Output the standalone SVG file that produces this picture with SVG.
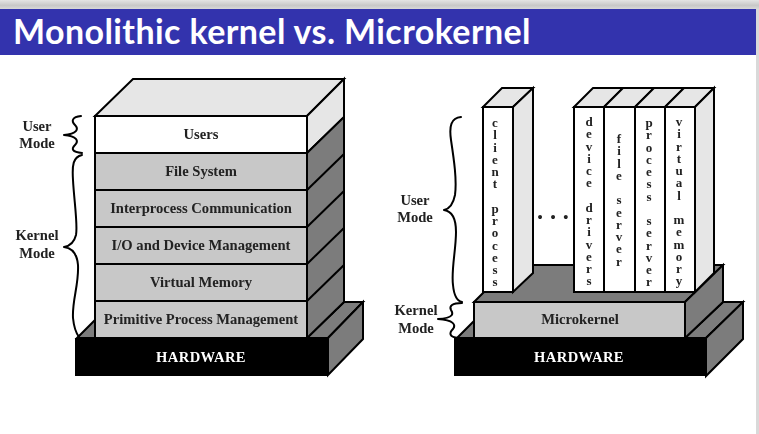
<svg xmlns="http://www.w3.org/2000/svg" width="759" height="434" viewBox="0 0 759 434">
<defs>
<linearGradient id="topShade" x1="0" y1="0" x2="0" y2="1"><stop offset="0" stop-color="#e4e4e4"/><stop offset="0.6" stop-color="#c8c8c8"/><stop offset="1" stop-color="#d8d8d8"/></linearGradient>
<filter id="soft" x="-2%" y="-2%" width="104%" height="104%"><feGaussianBlur stdDeviation="0.45"/></filter>
</defs>
<style>
.s{stroke:#000;stroke-width:2;stroke-linejoin:miter}
.w{fill:#fff}.l{fill:#e6e6e6}.m{fill:#c8c8c8}.d{fill:#7b7b7b}.k{fill:#000}
.b{fill:none;stroke:#000;stroke-width:2;stroke-linecap:round;stroke-linejoin:round}
text{font-family:"Liberation Serif","Times New Roman",serif;font-weight:700;font-size:14.6px;fill:#222;text-anchor:middle}
.hw{fill:#fff;letter-spacing:.4px}
.v{writing-mode:vertical-rl;text-orientation:upright;letter-spacing:-2.75px;font-size:13px;text-anchor:start}
.title{font-family:Lato,"Open Sans",sans-serif;font-size:34px;letter-spacing:.4px;fill:#fff;text-anchor:start}
.dots{letter-spacing:2.1px}
</style>
<rect width="759" height="434" fill="#fff"/>
<rect width="759" height="9" fill="url(#topShade)"/>
<rect x="756" y="9" width="3" height="425" fill="#d9d9d9"/>
<g id="title-bar">
<rect x="0" y="9" width="756" height="46" fill="#3333ad"/>
<text class="title" x="13" y="44">Monolithic kernel vs. Microkernel</text>
</g>
<g filter="url(#soft)">
<g id="mono-hardware">
<polygon class="s d" points="77,338 95,320 95,338"/>
<polygon class="s d" points="307,338 344,302 363,302 328,338"/>
<polygon class="s d" points="328,338 363,302 363,339 328,375"/>
<rect class="k" x="75" y="338" width="253" height="38"/>
<text class="hw" x="201" y="362">HARDWARE</text>
</g>
<g id="mono-top">
<polygon class="s l" points="95,116 133,79 344,79 307,116"/>
<polygon class="s l" points="307,116 344,79 344,117 307,153"/>
<polygon class="s d" points="307,153 344,117 344,302 307,338"/>
</g>
<g id="mono-side-lines">
<path class="s" fill="none" d="M307,190 L344,154 M307,227 L344,191 M307,264 L344,228 M307,301 L344,265"/>
</g>
<g id="layer-users"><rect class="s w" x="95" y="116" width="212" height="37"/><text x="201" y="139">Users</text></g>
<g id="layer-file-system"><rect class="s m" x="95" y="153" width="212" height="37"/><text x="201" y="176">File System</text></g>
<g id="layer-ipc"><rect class="s m" x="95" y="190" width="212" height="37"/><text x="201" y="213">Interprocess Communication</text></g>
<g id="layer-io"><rect class="s m" x="95" y="227" width="212" height="37"/><text x="201" y="250">I/O and Device Management</text></g>
<g id="layer-vm"><rect class="s m" x="95" y="264" width="212" height="37"/><text x="201" y="287">Virtual Memory</text></g>
<g id="layer-ppm"><rect class="s m" x="95" y="301" width="212" height="37"/><text x="201" y="324">Primitive Process Management</text></g>
<g id="mono-user-label"><text x="37" y="131">User</text><text x="37" y="148">Mode</text></g>
<g id="mono-kernel-label"><text x="37" y="240">Kernel</text><text x="37" y="258">Mode</text></g>

<g id="micro-hardware">
<polygon class="s d" points="457,338 474,321 474,338"/>
<polygon class="s d" points="685,338 723,302 743,302 706,338"/>
<polygon class="s d" points="706,338 743,302 743,339 706,376"/>
<rect class="k" x="454" y="338" width="252" height="38"/>
<text class="hw" x="579" y="362">HARDWARE</text>
</g>
<g id="microkernel">
<polygon class="s d" points="474,302 511,265 723,265 685,302"/>
<polygon class="s d" points="685,302 723,265 723,302 685,338"/>
<rect class="s m" x="474" y="302" width="211" height="36"/>
<text x="580" y="324">Microkernel</text>
</g>
<g id="client-process">
<polygon class="s l" points="483,107 502,88 533,88 513,107"/>
<polygon class="s l" points="513,107 533,88 533,273 513,292"/>
<rect class="s w" x="483" y="107" width="30" height="185"/>
<text class="v" x="495" y="115">client process</text>
</g>
<g id="device-drivers">
<polygon class="s l" points="574,107 593,88 623,88 604,107"/>
<rect class="s w" x="574" y="107" width="30" height="185"/>
<text class="v" x="589" y="114">device drivers</text>
</g>
<g id="file-server">
<polygon class="s l" points="604,107 623,88 654,88 635,107"/>
<rect class="s w" x="604" y="107" width="31" height="185"/>
<text class="v" x="619" y="131">file server</text>
</g>
<g id="process-server">
<polygon class="s l" points="635,107 654,88 684,88 665,107"/>
<rect class="s w" x="635" y="107" width="30" height="185"/>
<text class="v" x="649" y="115">process server</text>
</g>
<g id="virtual-memory">
<polygon class="s l" points="665,107 684,88 714,88 695,107"/>
<polygon class="s l" points="695,107 714,88 714,273 695,292"/>
<rect class="s w" x="665" y="107" width="30" height="185"/>
<text class="v" x="679" y="114">virtual memory</text>
</g>
<text class="dots" x="554" y="222">• • •</text>
<g id="micro-user-label"><text x="415" y="205">User</text><text x="415" y="222">Mode</text></g>
<g id="micro-kernel-label"><text x="416" y="315">Kernel</text><text x="416" y="333">Mode</text></g>
</g>
<g id="connectors" filter="url(#soft)">
<path class="b" d="M81,116 C72,117 71,121 75,125 C79,129 77,134 64,135 C77,136 79,141 75,145 C71,149 72,152 82,153"/>
<path class="b" d="M82,155 C73,157 72,165 73,180 C74,200 78,225 76,235 C74,243 70,246 64,247 C72,248 77,253 78,265 C79,285 72,300 73,318 C74,328 76,333 79,337"/>
<path class="b" d="M461,117 C451,118 449,126 451,140 C454,160 457,180 455,195 C453,205 449,209 444,210 C451,211 456,216 456,232 C456,250 451,270 453,285 C454,296 457,301 462,302"/>
<path class="b" d="M462,303 C452,303 449,306 451,310 C453,313 455,318 438,319 C454,320 456,325 453,329 C449,333 449,337 458,338"/>
</g>
</svg>
